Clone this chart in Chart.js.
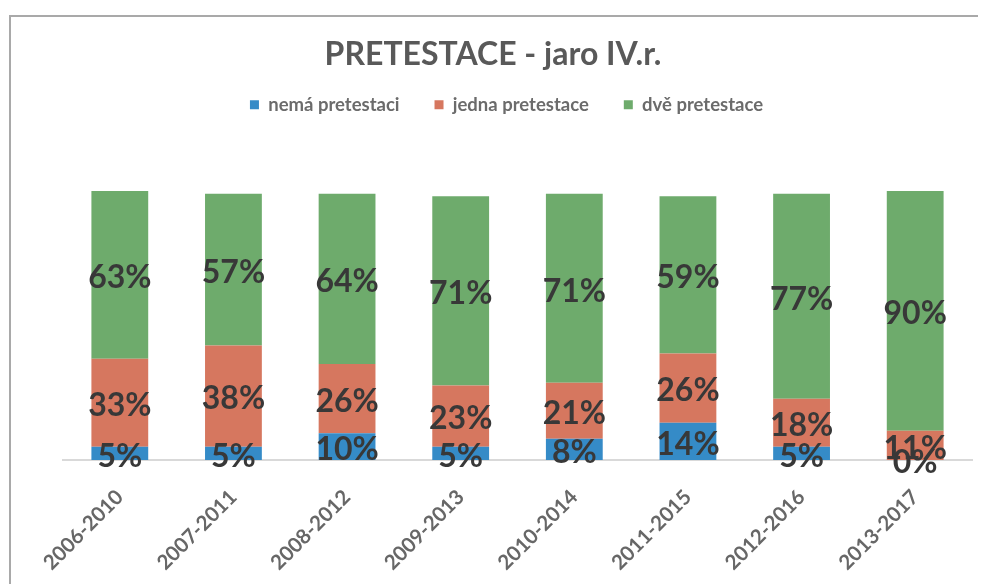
<!DOCTYPE html>
<html>
<head>
<meta charset="utf-8">
<script src="https://cdn.jsdelivr.net/npm/chart.js@4"></script>
<style>
html,body{margin:0;padding:0;background:#fff;}
#wrap{width:986px;height:584px;position:relative;}
</style>
</head>
<body>
<div id="wrap"><canvas id="c" width="986" height="584"></canvas></div>
<script>
const categories = ['2006-2010','2007-2011','2008-2012','2009-2013','2010-2014','2011-2015','2012-2016','2013-2017'];
const nemaPretestaci = [5, 5, 10, 5, 8, 14, 5, 0];
const jednaPretestace = [33, 38, 26, 23, 21, 26, 18, 11];
const dvePretestace = [63, 57, 64, 71, 71, 59, 77, 90];
const seriesNames = ['nemá pretestaci', 'jedna pretestace', 'dvě pretestace'];
const titleText = 'PRETESTACE - jaro IV.r.';

const frame = {
  id: 'frame',
  beforeDraw(chart) {
    const ctx = chart.ctx;
    ctx.save();
    ctx.fillStyle = '#fff';
    ctx.fillRect(0, 0, chart.width, chart.height);
    ctx.strokeStyle = '#a9a9a9';
    ctx.lineWidth = 2;
    ctx.beginPath();
    ctx.moveTo(10, chart.height);
    ctx.lineTo(10, 16);
    ctx.lineTo(chart.width - 8, 16);
    ctx.stroke();
    ctx.restore();
  }
};

const headerTweaks = {
  id: 'headerTweaks',
  beforeInit(chart) {
    const orig = chart.legend.fit;
    chart.legend.fit = function () {
      orig.bind(chart.legend)();
      this.height = 117.6;
    };
  },
  afterLayout(chart) {
    const t = chart.titleBlock;
    if (t) { t.left = 0; t.right = chart.width; t.width = chart.width; }
    const l = chart.legend;
    if (l) { l.left -= 11; l.right -= 11; l.top -= 13; l.bottom -= 13; }
  }
};

const valueLabels = {
  id: 'valueLabels',
  afterDatasetsDraw(chart) {
    const ctx = chart.ctx;
    ctx.save();
    ctx.font = 'bold 32px Lato';
    ctx.fillStyle = '#383838';
    ctx.textAlign = 'center';
    ctx.textBaseline = 'middle';
    chart.data.datasets.forEach((ds, di) => {
      const meta = chart.getDatasetMeta(di);
      meta.data.forEach((el, i) => {
        const p = el.getProps(['x', 'y', 'base'], true);
        const cy = (p.y + p.base) / 2;
        ctx.fillText(ds.data[i] + '%', p.x, cy + 3);
      });
    });
    ctx.restore();
  }
};

new Chart(document.getElementById('c'), {
  type: 'bar',
  data: {
    labels: categories,
    datasets: [
      { label: seriesNames[0], data: nemaPretestaci, backgroundColor: '#358bc7' },
      { label: seriesNames[1], data: jednaPretestace, backgroundColor: '#d6775f' },
      { label: seriesNames[2], data: dvePretestace, backgroundColor: '#6eab6c' }
    ]
  },
  options: {
    responsive: false,
    animation: false,
    layout: { padding: { left: 63, right: 14, top: 0, bottom: 0 } },
    datasets: { bar: { categoryPercentage: 1.0, barPercentage: 0.5 } },
    scales: {
      x: {
        stacked: true,
        grid: { display: false, drawTicks: false },
        border: { display: true, color: '#d9d9d9', width: 2 },
        afterFit(scale) { scale.height = 124; },
        ticks: {
          minRotation: 45, maxRotation: 45,
          padding: 25,
          color: '#676767',
          font: { family: 'Lato', size: 20.5, weight: 'bold' }
        }
      },
      y: {
        stacked: true,
        display: false,
        min: 0,
        max: 101
      }
    },
    plugins: {
      title: {
        display: true,
        text: titleText,
        color: '#595959',
        font: { family: 'Lato', size: 32, weight: 'bold' },
        padding: { top: 35, bottom: 0 }
      },
      legend: {
        display: true,
        labels: {
          color: '#6b6b6b',
          font: { family: 'Lato', size: 18.5, weight: 'bold' },
          boxWidth: 9, boxHeight: 9,
          padding: 35
        }
      },
      tooltip: { enabled: false }
    }
  },
  plugins: [frame, headerTweaks, valueLabels]
});
</script>
</body>
</html>
